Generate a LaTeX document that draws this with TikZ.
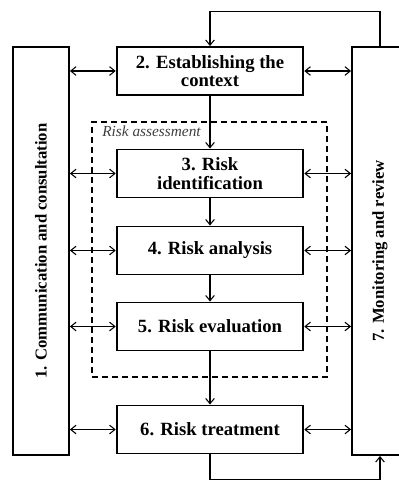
\documentclass[tikz,border=0pt]{standalone}
\usepackage{fontspec}
\setmainfont{Liberation Serif}
\usetikzlibrary{arrows.meta, positioning, calc}

\begin{document}
\begin{tikzpicture}[
    x=0.75pt, y=-0.75pt,
    box/.style={rectangle, draw, line width=1.4pt, fill=white, minimum width=140pt, minimum height=36pt, align=center, font=\bfseries\fontsize{14}{14}\selectfont},
    sidebox/.style={rectangle, draw, line width=1.4pt, rotate=90, minimum width=306pt, minimum height=42pt, font=\bfseries\fontsize{12.5}{14}\selectfont},
    dashbox/.style={rectangle, draw, line width=0.9pt, dash pattern=on 4.5pt off 3pt, minimum width=176.25pt, minimum height=191.25pt},
    arrow/.style={->, >={Straight Barb[length=4pt, width=6.5pt]}, line width=0.8pt},
    dblarrow/.style={<->, >={Straight Barb[length=4pt, width=6.5pt]}, line width=0.8pt}
]
\useasboundingbox (0,0) rectangle (399,481);

% risk assessment frame
\node[dashbox] (assess) at (209.5,249.5) {};
\node[anchor=north west, inner sep=2pt, text=black!75, font=\itshape\fontsize{11.5}{12}\selectfont] (assesslabel) at ([xshift=6pt, yshift=-1pt]assess.north west) {Risk assessment};

\node[box] (context) at (210,71) {2. Establishing the\\context};
\node[box] (identify) at (210,173.5) {3. Risk\\identification};
\node[box] (analysis) at (210,250.5) {4. Risk analysis};
\node[box] (evaluate) at (210,326.5) {5. Risk evaluation};
\node[box] (treat) at (210,429.5) {6. Risk treatment};

\node[sidebox] (comm) at (41,251) {1. Communication and consultation};
\node[sidebox] (monitor) at (380,251) {7. Monitoring and review};

\draw[arrow] (context) -- (identify);
\draw[arrow] (identify) -- (analysis);
\draw[arrow] (analysis) -- (evaluate);
\draw[arrow] (evaluate) -- (treat);

\foreach \n in {context, identify, analysis, evaluate, treat} {
  \draw[dblarrow] (comm.south |- \n.west) -- (\n.west);
  \draw[dblarrow] (\n.east) -- (monitor.north |- \n.east);
}

% feedback loops
\draw[arrow] (monitor.east) -- ++(0,-35) -| (context.north);
\draw[arrow] (treat.south) -- ++(0,25) -| (monitor.west);

\end{tikzpicture}
\end{document}
